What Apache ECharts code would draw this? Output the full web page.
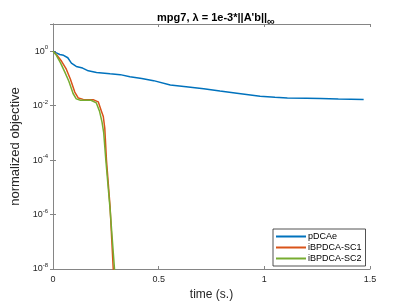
<!DOCTYPE html>
<html><head><meta charset="utf-8">
<script src="https://cdn.jsdelivr.net/npm/echarts@6/dist/echarts.min.js"></script>
<style>html,body{margin:0;padding:0;background:#fff}#c{width:409px;height:306px}</style>
</head><body><div id="c"></div>
<script>
const seriesNames = ['pDCAe', 'iBPDCA-SC1', 'iBPDCA-SC2'];
const pdcaeT = [0, 0.016, 0.032, 0.05, 0.07, 0.087, 0.11, 0.14, 0.167, 0.206, 0.27, 0.318, 0.364, 0.42, 0.476, 0.555, 0.63, 0.713, 0.79, 0.87, 0.98, 1.05, 1.109, 1.2, 1.266, 1.35, 1.47];
const pdcaeV = [1, 0.87, 0.76, 0.71, 0.575, 0.363, 0.275, 0.24, 0.19, 0.166, 0.148, 0.138, 0.115, 0.1, 0.083, 0.0575, 0.05, 0.0417, 0.0347, 0.0288, 0.0224, 0.0204, 0.0191, 0.0186, 0.0182, 0.0174, 0.017];
const sc1T = [0, 0.016, 0.04, 0.063, 0.082, 0.103, 0.12, 0.143, 0.19, 0.214, 0.23, 0.238, 0.245, 0.253, 0.27, 0.285, 0.292];
const sc1V = [1, 0.76, 0.437, 0.219, 0.0955, 0.0316, 0.019, 0.017, 0.0166, 0.0138, 0.006, 0.004, 0.0015, 1e-4, 2e-6, 1e-8, 3e-9];
const sc2T = [0, 0.016, 0.035, 0.055, 0.075, 0.095, 0.11, 0.13, 0.18, 0.205, 0.22, 0.232, 0.24, 0.25, 0.27, 0.291, 0.298];
const sc2V = [1, 0.71, 0.38, 0.178, 0.079, 0.028, 0.0178, 0.0158, 0.0158, 0.0126, 0.0063, 0.0025, 0.001, 1e-4, 1.6e-6, 1e-8, 3e-9];
const xTicks = [0, 0.5, 1, 1.5];
const yTickExps = [-8, -6, -4, -2, 0];

const colors = ['#0072BD', '#D95319', '#77AC30'];
const zip = (t, v) => t.map((x, i) => [x, v[i]]);
const axisCol = '#858585';
const txtCol = '#262626';
const font = 'Liberation Sans, Arial, sans-serif';

const chart = echarts.init(document.getElementById('c'), null, {renderer: 'canvas'});
chart.setOption({
  animation: false,
  backgroundColor: '#fff',
  title: {
    text: '{t|mpg7, λ = 1e-3*||A\'b||}{s|∞}',
    left: 211, top: 3, textAlign: 'center',
    textStyle: {
      rich: {
        t: {fontFamily: font, fontWeight: 'bold', fontSize: 11, color: '#000'},
        s: {fontFamily: font, fontWeight: 'bold', fontSize: 11, color: '#000', padding: [8, 0, 0, 0]}
      }
    }
  },
  grid: {left: 53, right: 39, top: 24, bottom: 33, containLabel: false},
  legend: {
    orient: 'vertical', left: 273, top: 229,
    data: seriesNames,
    icon: 'rect', itemWidth: 30, itemHeight: 2, itemGap: 2,
    backgroundColor: '#fff', borderColor: '#262626', borderWidth: 0.8,
    padding: [3, 4, 3, 3],
    textStyle: {fontFamily: font, fontSize: 9, color: '#000', padding: [0, 0, 0, -3]}
  },
  xAxis: [{
    type: 'value', min: 0, max: 1.5, interval: 0.5,
    name: 'time (s.)', nameLocation: 'middle', nameGap: 20,
    nameTextStyle: {fontFamily: font, fontSize: 12, color: txtCol},
    axisLine: {lineStyle: {color: axisCol, width: 1}},
    axisTick: {inside: true, length: 3, lineStyle: {color: axisCol}},
    axisLabel: {fontFamily: font, fontSize: 9, color: txtCol, margin: 6,
      formatter: v => xTicks.includes(v) ? String(v) : ''},
    splitLine: {show: false}
  }, {
    type: 'value', min: 0, max: 1.5, interval: 0.5, position: 'top',
    axisLine: {lineStyle: {color: axisCol, width: 1}},
    axisTick: {inside: true, length: 3, lineStyle: {color: axisCol}},
    axisLabel: {show: false}, splitLine: {show: false}
  }],
  yAxis: [{
    type: 'log', min: 1e-8, max: 10, logBase: 10, interval: 2,
    name: 'normalized objective', nameLocation: 'middle', nameGap: 29,
    nameTextStyle: {fontFamily: font, fontSize: 13, color: txtCol},
    axisLine: {show: true, lineStyle: {color: axisCol, width: 1}},
    axisTick: {inside: true, length: 3, lineStyle: {color: axisCol}},
    minorTick: {show: false},
    axisLabel: {
      fontFamily: font, fontSize: 9, color: txtCol, margin: 5,
      formatter: v => {
        const e = Math.round(Math.log10(v));
        if (!yTickExps.includes(e)) return '';
        return '{b|10}{s|' + e + '}';
      },
      rich: {
        b: {fontFamily: font, fontSize: 9, color: txtCol},
        s: {fontFamily: font, fontSize: 6, color: txtCol, padding: [0, 0, 7, 0]}
      }
    },
    splitLine: {show: false}
  }, {
    type: 'log', min: 1e-8, max: 10, logBase: 10, interval: 2, position: 'right',
    axisLine: {show: true, lineStyle: {color: axisCol, width: 1}},
    axisTick: {inside: true, length: 3, lineStyle: {color: axisCol}},
    axisLabel: {show: false}, splitLine: {show: false}
  }],
  series: [
    {name: seriesNames[0], type: 'line', data: zip(pdcaeT, pdcaeV), showSymbol: false, symbol: 'none',
     lineStyle: {color: colors[0], width: 1.5}, itemStyle: {color: colors[0]}, clip: true},
    {name: seriesNames[1], type: 'line', data: zip(sc1T, sc1V), showSymbol: false, symbol: 'none',
     lineStyle: {color: colors[1], width: 1.5}, itemStyle: {color: colors[1]}, clip: true},
    {name: seriesNames[2], type: 'line', data: zip(sc2T, sc2V), showSymbol: false, symbol: 'none',
     lineStyle: {color: colors[2], width: 1.5}, itemStyle: {color: colors[2]}, clip: true}
  ]
});
</script>
</body></html>
